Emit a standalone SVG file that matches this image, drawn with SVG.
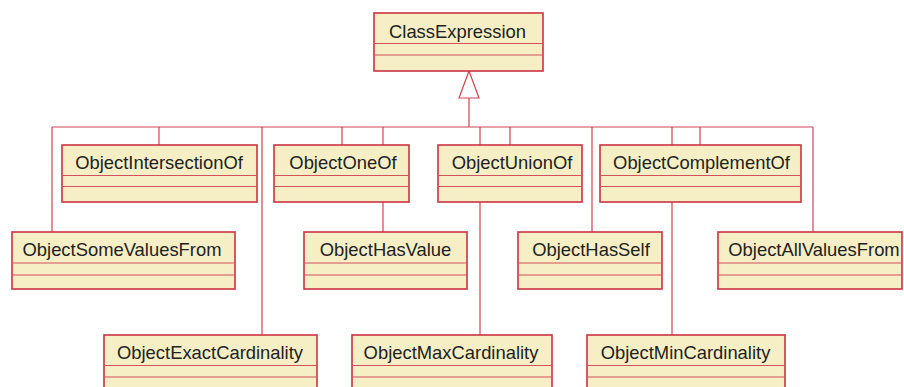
<svg xmlns="http://www.w3.org/2000/svg" width="904" height="387" viewBox="0 0 904 387">
<style>
.box{fill:#f6efc6;stroke:#cc3341;stroke-width:1.6}
.div{stroke:#d2505c;stroke-width:1.2;fill:none}
.lbl{font-family:"Liberation Sans",Arial,sans-serif;font-size:18.4px;fill:#222;text-anchor:middle}
.con{stroke:#d04452;stroke-width:1.2;fill:none}
.tri{fill:#ffffff;stroke:#d04452;stroke-width:1.2}
</style>
<rect width="904" height="387" fill="#ffffff"/>
<g id="connectors">
<path class="con" d="M52 127H813"/>
<path class="con" d="M469 98V127"/>
<polygon class="tri" points="469,71 459,98 479,98"/>
<path class="con" d="M52 127V232"/>
<path class="con" d="M159 127V145"/>
<path class="con" d="M262 127V335"/>
<path class="con" d="M342 127V145"/>
<path class="con" d="M383 127V232"/>
<path class="con" d="M480 127V335"/>
<path class="con" d="M510 127V145"/>
<path class="con" d="M592 127V232"/>
<path class="con" d="M672 127V335"/>
<path class="con" d="M700 127V145"/>
<path class="con" d="M813 127V232"/>
</g>
<g id="ClassExpression">
<rect class="box" x="374" y="13" width="169" height="58"/>
<path class="div" d="M374 43.5H543M374 55H543"/>
<text class="lbl" x="457.5" y="37.5">ClassExpression</text>
</g>
<g id="ObjectIntersectionOf">
<rect class="box" x="62" y="145" width="195" height="57"/>
<path class="div" d="M62 175.5H257M62 186.5H257"/>
<text class="lbl" x="159" y="169">ObjectIntersectionOf</text>
</g>
<g id="ObjectOneOf">
<rect class="box" x="274" y="145" width="135" height="57"/>
<path class="div" d="M274 175.5H409M274 186.5H409"/>
<text class="lbl" x="343" y="169">ObjectOneOf</text>
</g>
<g id="ObjectUnionOf">
<rect class="box" x="438" y="145" width="144" height="57"/>
<path class="div" d="M438 175.5H582M438 186.5H582"/>
<text class="lbl" x="512" y="169">ObjectUnionOf</text>
</g>
<g id="ObjectComplementOf">
<rect class="box" x="600" y="145" width="201" height="57"/>
<path class="div" d="M600 175.5H801M600 186.5H801"/>
<text class="lbl" x="701.5" y="169">ObjectComplementOf</text>
</g>
<g id="ObjectSomeValuesFrom">
<rect class="box" x="12" y="232" width="223" height="57"/>
<path class="div" d="M12 263H235M12 275H235"/>
<text class="lbl" x="122" y="256">ObjectSomeValuesFrom</text>
</g>
<g id="ObjectHasValue">
<rect class="box" x="304" y="232" width="163" height="57"/>
<path class="div" d="M304 263H467M304 275H467"/>
<text class="lbl" x="385.5" y="256">ObjectHasValue</text>
</g>
<g id="ObjectHasSelf">
<rect class="box" x="518" y="232" width="144" height="57"/>
<path class="div" d="M518 263H662M518 275H662"/>
<text class="lbl" x="591" y="256">ObjectHasSelf</text>
</g>
<g id="ObjectAllValuesFrom">
<rect class="box" x="718" y="232" width="184" height="57"/>
<path class="div" d="M718 263H902M718 275H902"/>
<text class="lbl" x="814" y="256">ObjectAllValuesFrom</text>
</g>
<g id="ObjectExactCardinality">
<rect class="box" x="104" y="335" width="213" height="57"/>
<path class="div" d="M104 365.5H317M104 377H317"/>
<text class="lbl" x="210" y="359">ObjectExactCardinality</text>
</g>
<g id="ObjectMaxCardinality">
<rect class="box" x="352" y="335" width="200" height="57"/>
<path class="div" d="M352 365.5H552M352 377H552"/>
<text class="lbl" x="451" y="359">ObjectMaxCardinality</text>
</g>
<g id="ObjectMinCardinality">
<rect class="box" x="587" y="335" width="198" height="57"/>
<path class="div" d="M587 365.5H785M587 377H785"/>
<text class="lbl" x="685.5" y="359">ObjectMinCardinality</text>
</g>
</svg>
